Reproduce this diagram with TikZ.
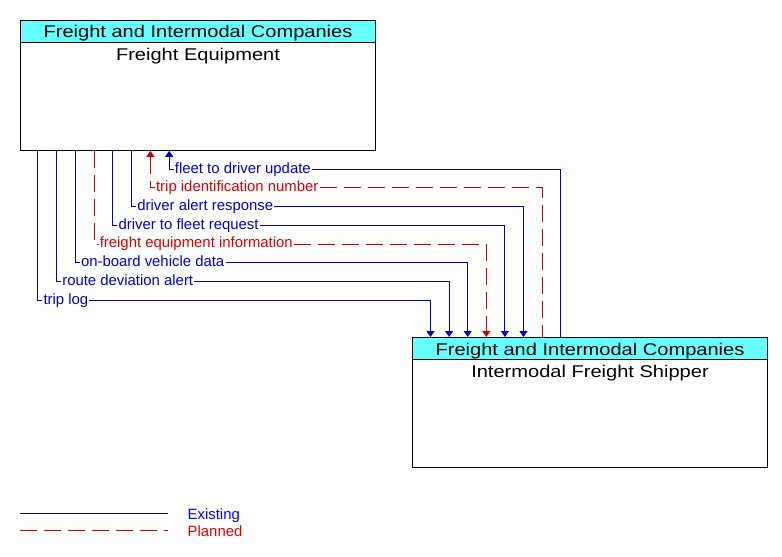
\documentclass[tikz,border=0pt]{standalone}
\usepackage{fontspec}
\setmainfont{Liberation Sans}
\newfontfamily\hdrfont[FakeStretch=1.18]{Liberation Sans}
\usepackage{tikz}
\usepackage{xcolor}
\usetikzlibrary{arrows.meta}
\definecolor{flowblue}{RGB}{0,0,200}
\definecolor{flowred}{RGB}{200,0,0}
\definecolor{lblblue}{RGB}{0,0,215}
\definecolor{lblred}{RGB}{215,0,0}
\definecolor{hdrcyan}{RGB}{102,255,255}

\begin{document}
\begin{tikzpicture}[x=1pt,y=-1pt,
    exist/.style={flowblue,line width=1pt},
    plan/.style={flowred,line width=1pt,dash pattern=on 17pt off 7pt},
    arr/.style={-{Triangle[length=6pt,width=8pt]}},
    rarr/.style={{Triangle[length=6pt,width=8pt]}-},
    sysbox/.style={draw=black,line width=1pt,minimum width=355.4pt,minimum height=130pt,inner sep=0pt},
    hdr/.style={draw=black,line width=1pt,fill=hdrcyan,minimum width=355.4pt,minimum height=22pt,inner sep=0pt,text height=14pt,text depth=1pt,font=\hdrfont\fontsize{17}{20}\selectfont},
    ttl/.style={inner sep=0pt,text height=17.5pt,font=\hdrfont\fontsize{17}{20}\selectfont},
    lbl/.style={anchor=west,inner sep=1pt,text height=10.8pt,text depth=3pt,font=\fontsize{14.9}{17}\selectfont},
    lgd/.style={anchor=base west,inner sep=0pt,font=\fontsize{14.9}{17}\selectfont}]
    \useasboundingbox (0,0) rectangle (782,557);
    \node [sysbox] (fe) at (198,85.3) {};
    \node [hdr,anchor=north] (feh) at (fe.north) {Freight and Intermodal Companies};
    \node [ttl,anchor=north] (fet) at (feh.south) {Freight Equipment};
    \node [sysbox] (ifs) at (590,402.5) {};
    \node [hdr,anchor=north] (ifsh) at (ifs.north) {Freight and Intermodal Companies};
    \node [ttl,anchor=north] (ifst) at (ifsh.south) {Intermodal Freight Shipper};
    \node [lbl,text=lblblue] (f1) at (173.7,169.3) {fleet to driver update};
    \node [lbl,text=lblred] (f2) at (154.9,187.9) {trip identification number};
    \node [lbl,text=lblblue] (f3) at (136.2,206.6) {driver alert response};
    \node [lbl,text=lblblue] (f4) at (117.4,225.3) {driver to fleet request};
    \node [lbl,text=lblred] (f5) at (98.6,244) {freight equipment information};
    \node [lbl,text=lblblue] (f6) at (79.8,262.7) {on-board vehicle data};
    \node [lbl,text=lblblue] (f7) at (61.1,281.4) {route deviation alert};
    \node [lbl,text=lblblue] (f8) at (42.3,300.1) {trip log};
    \draw [exist,rarr]([xshift=149.4pt]fe.south west) |- (f1.west);
    \draw [exist](f1.east) -| ([xshift=148.9pt]ifs.north west);
    \draw [plan,rarr]([xshift=130.6pt]fe.south west) |- (f2.west);
    \draw [plan](f2.east) -| ([xshift=130.3pt]ifs.north west);
    \draw [exist]([xshift=111.9pt]fe.south west) |- (f3.west);
    \draw [exist,arr](f3.east) -| ([xshift=111.7pt]ifs.north west);
    \draw [exist]([xshift=93.1pt]fe.south west) |- (f4.west);
    \draw [exist,arr](f4.east) -| ([xshift=93.1pt]ifs.north west);
    \draw [plan]([xshift=74.3pt]fe.south west) |- (f5.west);
    \draw [plan,arr](f5.east) -| ([xshift=74.5pt]ifs.north west);
    \draw [exist]([xshift=55.5pt]fe.south west) |- (f6.west);
    \draw [exist,arr](f6.east) -| ([xshift=55.9pt]ifs.north west);
    \draw [exist]([xshift=36.8pt]fe.south west) |- (f7.west);
    \draw [exist,arr](f7.east) -| ([xshift=37.3pt]ifs.north west);
    \draw [exist]([xshift=18pt]fe.south west) |- (f8.west);
    \draw [exist,arr](f8.east) -| ([xshift=18.7pt]ifs.north west);
    \coordinate (lgE) at (20,513.3);
    \coordinate (lgP) at (20,530.3);
    \draw [exist](lgE) -- ++(148,0);
    \draw [plan](lgP) -- ++(148,0);
    \node [lgd,text=blue] (lgEt) at (187.5,519.3) {Existing};
    \node [lgd,text=red!90!black] (lgPt) at (187.5,536) {Planned};
\end{tikzpicture}
\end{document}
